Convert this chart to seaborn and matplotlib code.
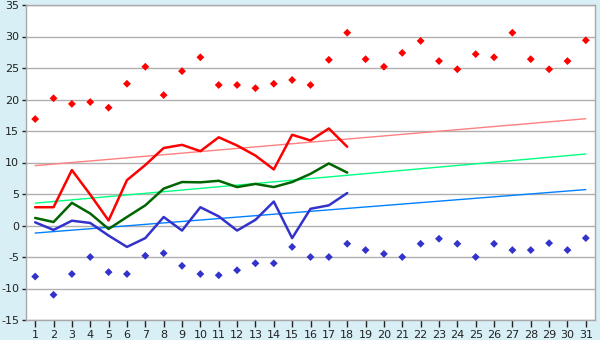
import numpy as np
import pandas as pd
import matplotlib
matplotlib.use("Agg")
import matplotlib.pyplot as plt
import seaborn as sns

days = list(range(1, 32))
max_pts = [16.9, 20.2, 19.3, 19.6, 18.7, 22.5, 25.2, 20.7, 24.5, 26.7,
           22.3, 22.3, 21.8, 22.5, 23.1, 22.3, 26.3, 30.6, 26.4, 25.2,
           27.4, 29.3, 26.1, 24.8, 27.2, 26.7, 30.6, 26.4, 24.8, 26.1, 29.4]
min_pts = [-8.1, -11.0, -7.7, -5.0, -7.4, -7.7, -4.8, -4.4, -6.4, -7.7,
           -7.9, -7.1, -6.0, -6.0, -3.4, -5.0, -5.0, -2.9, -3.9, -4.5,
           -5.0, -2.9, -2.1, -2.9, -5.0, -2.9, -3.9, -3.9, -2.8, -3.9, -2.0]
line_days = list(range(1, 19))
max_line = [2.9, 2.9, 8.8, 4.9, 0.8, 7.2, 9.6, 12.3, 12.8, 11.8,
            14.0, 12.7, 11.1, 8.9, 14.4, 13.5, 15.4, 12.5]
mean_line = [1.2, 0.55, 3.6, 1.9, -0.55, 1.35, 3.2, 5.85, 6.9, 6.85,
             7.1, 6.1, 6.6, 6.1, 6.9, 8.2, 9.85, 8.4]
min_line = [0.5, -0.7, 0.76, 0.4, -1.6, -3.4, -2.0, 1.35, -0.8, 2.9,
            1.45, -0.8, 0.9, 3.8, -2.0, 2.65, 3.2, 5.15]
trend_days = [1, 31]
trend_max = [9.5, 16.95]
trend_mean = [3.55, 11.35]
trend_min = [-1.2, 5.7]
yticks = list(range(-15, 36, 5))

bg = "#d9eff6"
sns.set_theme(style="white")
plt.rcParams['font.family'] = ['DejaVu Sans']

fig = plt.figure(figsize=(6, 3.4), dpi=100, facecolor=bg)
ax = fig.add_axes([26/600, 1-320/340, (595-26)/600, (320-5)/340])
ax.set_facecolor("white")

for y in yticks:
    ax.axhline(y, color="#b0b0b0", lw=1, zorder=0)

sns.lineplot(x=trend_days, y=trend_max, ax=ax, color="#ff8080", lw=1, zorder=2)
sns.lineplot(x=trend_days, y=trend_mean, ax=ax, color="#00ff80", lw=1, zorder=2)
sns.lineplot(x=trend_days, y=trend_min, ax=ax, color="#0080ff", lw=1, zorder=2)

sns.lineplot(x=line_days, y=max_line, ax=ax, color="#ff0000", lw=1.8, zorder=3)
sns.lineplot(x=line_days, y=mean_line, ax=ax, color="#006400", lw=1.8, zorder=3)
sns.lineplot(x=line_days, y=min_line, ax=ax, color="#3333cc", lw=1.8, zorder=3)

sns.scatterplot(x=days, y=max_pts, ax=ax, color="#ff0000", marker="D", s=16,
                edgecolor="none", zorder=4)
sns.scatterplot(x=days, y=min_pts, ax=ax, color="#3333cc", marker="D", s=16,
                edgecolor="none", zorder=4)

ax.set_xlim(0.5, 31.5)
ax.set_ylim(-15, 35)
ax.set_xticks(days)
ax.set_xticklabels([str(d) for d in days], fontsize=8, color="#222222")
ax.set_yticks(yticks)
ax.set_yticklabels([str(y) for y in yticks], fontsize=8, color="#222222")
ax.tick_params(axis="x", direction="out", length=5, width=1, color="#222222", pad=2, bottom=True)
ax.tick_params(axis="y", direction="out", length=3, width=1, color="#222222", pad=2, left=True)
for s in ax.spines.values():
    s.set_color("#a8a8a8")
    s.set_linewidth(1)
ax.grid(False)

fig.savefig("out.png", dpi=100, facecolor=bg)
